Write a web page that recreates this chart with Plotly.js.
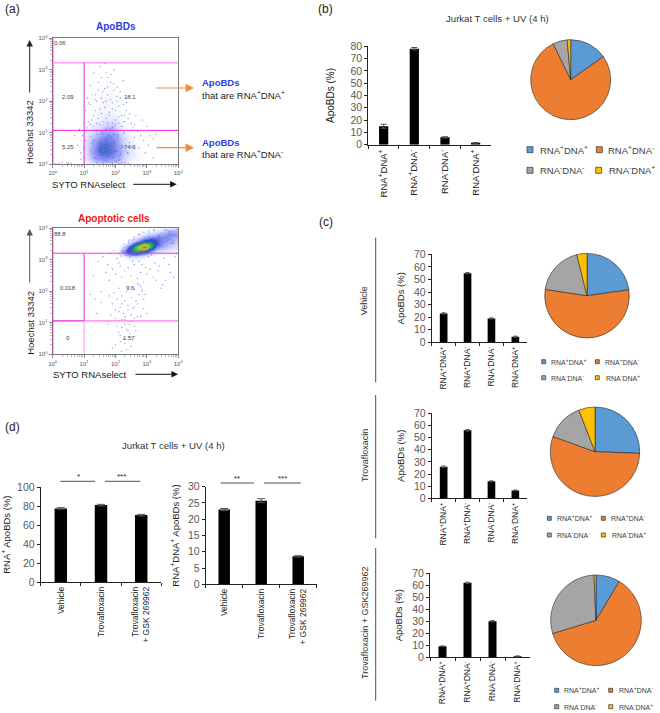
<!DOCTYPE html>
<html>
<head>
<meta charset="utf-8">
<script src="https://cdn.plot.ly/plotly-3.0.1.min.js"></script>
<style>html,body{margin:0;padding:0;background:#fff}#c{width:660px;height:713px}</style>
</head>
<body>
<div id="c"></div>
<script>
// ---------- data ----------
const statusCats = ['RNA<sup>+</sup>DNA<sup>+</sup>','RNA<sup>+</sup>DNA<sup>-</sup>','RNA<sup>-</sup>DNA<sup>-</sup>','RNA<sup>-</sup>DNA<sup>+</sup>'];
const pieColors = ['#5b9bd5','#ed7d31','#a5a5a5','#ffc000'];

const barsB = [15, 78, 6, 1.5];
const errB = [1.6, 1, 0.5, 0.3];
const pieB = [15.2, 77.6, 5.8, 1.4];

const barsVehicle = [23, 55, 19, 4.5];
const errVehicle = [0.5, 0.5, 0.4, 0.4];
const pieVehicle = [22.8, 54.6, 18.7, 3.9];

const barsTrova = [26, 56, 14, 6.5];
const errTrova = [0.6, 0.6, 0.4, 0.3];
const pieTrova = [25.6, 54.9, 13.6, 5.9];

const barsGsk = [9, 62, 30, 0.7];
const errGsk = [0.3, 0.6, 0.5, 0.2];
const pieGsk = [8.6, 61.7, 29, 0.7];

const treatCats = ['Vehicle','Trovafloxacin','Trovafloxacin<br>+ GSK 269962'];
const barsRnaPos = [77.5, 81, 70.5];
const errRnaPos = [0.8, 0.8, 0.8];
const barsDblPos = [23, 25.7, 8.6];
const errDblPos = [0.3, 0.6, 0.2];

const flowTickVals = [1, 10, 100, 1000, 10000];
const flowTickText = ['10<sup>0</sup>','10<sup>1</sup>','10<sup>2</sup>','10<sup>3</sup>','10<sup>4</sup>'];

// flow cytometry sparse events, log10 values
const apoX = [1.1,1.05,1.2,1.3,1.35,1.45,1.5,1.55,1.6,1.65,1.7,1.75,1.6,1.5,1.4,1.3,1.2,1.15,1.25,1.35,1.45,1.55,1.65,1.75,1.85,1.95,2.05,2.15,2.25,2.35,1.9,2.0,2.1,2.2,1.8,1.7,1.6,1.5,1.4,1.3,1.2,1.1,1.9,2.0,2.1,2.3,2.4,2.5,2.6,2.2,1.75,1.85,1.95,2.05,1.65,1.55,1.45,1.35,1.25,1.15,1.7,1.8,1.9,2.0,2.1,2.2,2.3,2.15,2.05,1.95,1.85,1.75,2.25,2.35,2.45,2.55,2.7,2.8,3.0,3.1,2.9,2.6,2.5,2.4,2.75,2.95,3.05,3.2,3.3,1.0,0.95,1.0,0.9,1.05,0.85,0.3,0.5,0.7,0.6,0.45,0.2,0.1,0.8,0.9,1.9,2.1,2.2,1.6,1.4,2.25,2.65,2.85,3.2,2.4,2.3,2.2,
 1.2,1.28,1.33,1.41,1.47,1.52,1.58,1.63,1.69,1.74,1.79,1.83,1.88,1.93,1.98,2.03,2.08,2.14,2.19,1.22,1.31,1.39,1.44,1.51,1.57,1.62,1.68,1.73,1.78,1.84,1.89,1.94,1.99,2.04,2.09,2.16,2.22,2.28,1.26,1.36,1.43,1.49,1.56,1.61,1.67,1.72,1.77,1.82,1.87,1.92,1.97,2.02,2.07,2.12,2.18,2.27,2.33,1.34,1.42,1.53,1.59,1.66,1.71,1.81,1.86,1.91,1.96,2.01,2.06,2.11,2.24,2.31,2.38,2.44,1.64,1.76,1.54,1.46];
const apoY = [2.1,1.7,2.5,2.9,2.2,2.6,3.1,2.75,2.3,3.2,2.9,2.45,1.95,1.75,2.0,1.55,1.9,1.35,1.4,1.7,1.45,1.6,1.8,2.2,2.6,2.35,2.15,2.3,1.9,1.7,1.95,1.7,1.85,1.55,1.65,1.45,1.35,1.25,1.3,1.2,1.25,1.15,1.3,1.4,1.5,1.35,1.45,1.3,1.25,1.2,2.75,2.05,2.55,2.0,2.4,2.1,2.35,2.05,2.2,1.95,2.0,1.55,1.75,1.25,1.3,1.2,1.55,2.1,2.45,3.0,2.85,1.3,1.35,1.95,1.6,1.15,1.05,0.9,1.2,0.9,0.75,0.85,0.55,0.35,0.5,0.35,0.6,0.8,0.95,0.5,0.9,0.2,0.35,0.75,1.1,0.05,0.02,0.9,0.03,0.04,0.02,0.03,0.6,0.15,0.02,0.03,0.05,0.02,0.03,2.65,1.55,1.4,0.2,0.02,0.04,0.03,
 0.42,0.75,0.18,0.95,0.3,0.62,1.02,0.12,0.5,0.85,0.27,1.12,0.66,0.22,0.93,0.4,0.78,0.14,0.58,0.88,0.34,1.05,0.48,0.7,0.16,0.97,0.38,0.82,0.24,0.6,1.15,0.44,0.72,0.1,0.9,0.32,0.54,0.99,0.66,0.2,1.08,0.46,0.8,0.28,0.74,0.13,0.56,0.92,0.36,1.18,0.64,0.08,0.84,0.26,0.5,1.0,0.42,0.76,0.17,0.96,0.3,0.6,1.1,0.52,0.86,0.22,0.7,0.4,0.94,0.12,0.56,0.8,0.35,0.68,0.25,0.9,1.04,0.46,0.15,0.62];

const apoHotX = [1.62,1.7,1.78,1.84,1.9,1.74,1.66,1.82,1.95,1.58,1.72,1.88,1.79,1.68];
const apoHotY = [0.42,0.55,0.38,0.66,0.46,0.72,0.28,0.52,0.6,0.5,0.34,0.82,0.62,0.44];

const cellX = [1.3,1.45,1.6,1.75,1.85,1.95,2.05,2.15,2.25,2.35,2.45,2.55,2.65,2.75,2.85,2.95,3.05,3.15,3.25,3.4,3.55,3.7,3.9,1.2,1.35,1.55,1.7,1.8,1.9,2.0,2.1,2.2,2.3,2.4,2.5,2.6,2.7,2.8,2.9,3.0,3.1,3.2,3.3,3.5,3.85,1.8,1.9,1.95,2.0,2.05,2.1,2.15,2.2,2.25,2.3,2.35,2.4,2.45,2.5,2.55,2.6,2.65,2.7,2.75,2.8,2.85,2.9,2.0,2.1,2.2,2.3,2.4,2.5,2.6,2.7,2.8,2.9,3.0,2.2,2.3,2.4,2.5,2.6,2.7,2.15,2.25,2.35,2.45,2.55,2.05,2.0,1.9,1.75,2.1,2.2,2.3,2.4,2.5,2.35,2.2,2.15,2.05,2.6,2.65,2.45,2.3,1.85,2.55,2.75,3.35,3.45,3.6,3.75,3.95,1.55,1.4,2.85,2.95,
 2.2,2.28,2.36,2.44,2.52,2.6,2.68,2.76,2.84,2.92,3.0,3.08,3.16,3.24,3.32,3.4,3.48,3.56,3.64,3.72,3.8,3.88,3.96,2.26,2.34,2.42,2.5,2.58,2.66,2.74,2.82,2.9,2.98,3.06,3.14,3.22,3.3,3.38,3.46,3.54,3.62,3.7,3.78,3.86,3.94,2.1,2.16,2.4,2.56,2.72,2.88,3.04,3.2,3.36,3.52,3.68,3.84,3.98];
const cellY = [2.5,2.95,3.1,2.85,3.2,3.3,3.05,2.8,3.25,3.45,3.1,3.6,3.15,2.95,2.85,2.75,3.1,3.15,2.9,2.8,3.05,2.85,3.1,1.9,1.75,2.0,2.6,2.35,2.7,2.55,2.9,2.45,2.65,2.75,2.5,2.85,2.4,2.6,2.3,2.55,2.7,2.45,2.35,2.2,2.45,1.85,1.6,1.95,1.4,1.75,2.1,1.5,1.85,1.3,1.7,2.0,1.55,2.15,1.8,1.45,2.05,1.7,2.25,1.9,2.15,2.0,1.75,1.15,1.35,1.6,1.1,1.4,1.25,1.5,1.6,1.2,1.45,1.3,0.85,0.95,0.75,1.05,0.9,1.2,0.6,0.5,0.8,0.65,0.45,0.9,0.3,0.2,0.95,0.7,1.1,0.35,0.55,0.25,0.15,0.1,0.4,1.05,1.15,0.75,0.95,1.2,1.25,2.95,2.2,2.65,2.1,2.35,2.6,3.2,1.65,1.3,2.05,1.9,
 3.28,3.4,3.22,3.62,3.3,3.72,3.35,3.8,3.28,3.7,3.42,3.85,3.5,3.92,3.55,3.75,3.45,3.95,3.6,3.88,3.52,3.8,3.98,3.5,3.15,3.55,3.18,3.65,3.24,3.82,3.3,3.88,3.4,3.92,3.36,3.96,3.45,3.7,3.85,3.55,3.95,3.65,3.9,3.6,3.78,3.2,3.12,3.3,3.42,3.55,3.6,3.75,3.3,3.78,3.42,3.92,3.52,3.7];

// density grids, log10 cell centres
const apoGridX = [0.9,1.1,1.3,1.5,1.7,1.9,2.1,2.3,2.5,2.7,2.9,3.1];
const apoGridY = [0.0,0.2,0.4,0.6,0.8,1.0,1.2,1.4,1.6,1.8,2.0,2.2,2.4,2.6,2.8,3.0];
const apoGridZ = [
 [0,.03,.08,.09,.1,.09,.07,.04,.02,.01,0,0],
 [.01,.06,.14,.19,.2,.18,.13,.08,.04,.02,.01,0],
 [.01,.07,.17,.26,.27,.23,.16,.09,.05,.02,.01,0],
 [.01,.07,.16,.25,.26,.22,.15,.07,.04,.02,.01,0],
 [0,.06,.12,.18,.22,.19,.12,.06,.03,.01,0,0],
 [0,.04,.08,.11,.15,.15,.09,.04,.02,.01,0,0],
 [0,.02,.04,.06,.1,.1,.05,.02,.01,0,0,0],
 [0,.01,.02,.03,.05,.05,.03,.01,0,0,0,0],
 [0,0,.02,.03,.03,.03,.02,.01,0,0,0,0],
 [0,0,.01,.02,.03,.02,.02,0,0,0,0,0],
 [0,0,.01,.02,.03,.02,.01,0,0,0,0,0],
 [0,0,.01,.02,.02,.02,.01,0,0,0,0,0],
 [0,0,.01,.01,.02,.01,0,0,0,0,0,0],
 [0,0,0,.01,.01,.01,0,0,0,0,0,0],
 [0,0,0,0,.01,0,0,0,0,0,0,0],
 [0,0,0,0,0,0,0,0,0,0,0,0]
];

const cellGridX = [1.9,2.1,2.3,2.5,2.7,2.9,3.1,3.3,3.5,3.7,3.9,4.1];
const cellGridY = [2.9,3.0,3.1,3.2,3.3,3.4,3.5,3.6,3.7,3.8,3.9,4.0];
const cellGridZ = [
 [0,0,0,0,0,0,0,0,0,0,0,0],
 [0,0,0,.02,.02,0,0,0,0,0,0,0],
 [0,0,.05,.08,.07,.04,.02,.01,0,0,0,0],
 [0,.01,.18,.32,.32,.2,.09,.04,.03,.02,.01,0],
 [0,.01,.22,.46,.6,.54,.24,.1,.07,.05,.04,.03],
 [0,0,.1,.38,.72,.98,.54,.2,.12,.09,.07,.05],
 [0,0,.03,.18,.46,.76,.6,.3,.16,.11,.08,.07],
 [0,0,0,.05,.16,.34,.4,.28,.2,.15,.11,.08],
 [0,0,0,.01,.05,.12,.2,.22,.2,.18,.13,.09],
 [0,0,0,0,.02,.05,.08,.11,.14,.2,.17,.1],
 [0,0,0,0,0,.02,.03,.05,.08,.12,.14,.1],
 [0,0,0,0,0,0,.01,.02,.03,.06,.08,.08]
];

// ---------- page geometry ----------
const W = 660, H = 713;
const fx = p => p / W;
const fy = p => 1 - p / H;
const dark = '#222222', tickGrey = '#595959';
const sans = 'Liberation Sans, Arial, sans-serif';
const pow10 = a => a.map(v => Math.pow(10, v));

const layout = {
  width: W, height: H, margin: {l:0, r:0, t:0, b:0}, autosize: false,
  paper_bgcolor: '#fff', plot_bgcolor: 'rgba(0,0,0,0)', showlegend: false, hovermode: false,
  font: {family: sans, color: dark},
  shapes: [], annotations: []
};
const traces = [];

function note(x, y, text, o) {
  layout.annotations.push(Object.assign({xref:'paper', yref:'paper', x:fx(x), y:fy(y), text, showarrow:false,
    xanchor:'center', yanchor:'middle', borderpad:0, font:{size:9.5, color:dark, family:sans}}, o||{}));
}
function arrow(x0, y0, x1, y1, color, w, size) {
  layout.annotations.push({xref:'paper', yref:'paper', axref:'paper', ayref:'paper', x:fx(x1), y:fy(y1), ax:fx(x0), ay:fy(y0),
    text:'', showarrow:true, arrowhead:2, arrowsize:size||1, arrowwidth:w||1.2, arrowcolor:color});
}
function seg(x0, y0, x1, y1, color, w) {
  layout.shapes.push({type:'line', xref:'paper', yref:'paper', x0:fx(x0), y0:fy(y0), x1:fx(x1), y1:fy(y1), line:{color:color||dark, width:w||1}});
}

function flowPanel(n, box, pts, grid, gates) {
  const xn = 'x'+n, yn = 'y'+n;
  const base = {type:'log', range:[0,4], tickmode:'array', tickvals:flowTickVals, ticktext:flowTickText,
    ticks:'outside', ticklen:3, tickcolor:'#555', tickwidth:.7, linecolor:'#777', linewidth:1, mirror:true, showgrid:false, zeroline:false,
    tickfont:{size:6, color:'#555', family:sans}, minor:{tickmode:'array', ticks:'outside', ticklen:1.5, tickcolor:'#777', tickwidth:.5,
      tickvals:[2,3,4,5,6,7,8,9,20,30,40,50,60,70,80,90,200,300,400,500,600,700,800,900,2000,3000,4000,5000,6000,7000,8000,9000]}};
  layout['xaxis'+n] = Object.assign({}, base, {domain:[fx(box[0]),fx(box[1])], anchor:yn});
  layout['yaxis'+n] = Object.assign({}, base, {domain:[fy(box[3]),fy(box[2])], anchor:xn});
  traces.push({type:'heatmap', xaxis:xn, yaxis:yn, x:pow10(grid.x), y:pow10(grid.y), z:grid.z, zsmooth:'best', zmin:0, zmax:1, showscale:false, hoverinfo:'skip',
    colorscale:[[0,'rgba(255,255,255,0)'],[.03,'rgba(200,205,255,.3)'],[.12,'rgba(140,150,250,.7)'],[.3,'#3040d8'],[.5,'#14a070'],[.72,'#a8d820'],[.86,'#f0a020'],[1,'#e02818']]});
  traces.push({type:'scatter', mode:'markers', xaxis:xn, yaxis:yn, x:pow10(pts.x), y:pow10(pts.y), hoverinfo:'skip',
    marker:{size:1.3, color:'#5a66e8', opacity:.75, line:{width:0}}});
  if (pts.hotX) traces.push({type:'scatter', mode:'markers', xaxis:xn, yaxis:yn, x:pow10(pts.hotX), y:pow10(pts.hotY), hoverinfo:'skip',
    marker:{size:1.5, color:'#30b880', line:{width:0}}});
  gates.forEach(g => layout.shapes.push({type:'line', xref:xn, yref:yn, x0:Math.pow(10,g[0]), y0:Math.pow(10,g[1]), x1:Math.pow(10,g[2]), y1:Math.pow(10,g[3]), line:{color:g[4], width:g[5]}}));
}

function barPanel(n, box, cats, vals, errs, o) {
  const xn = 'x'+n, yn = 'y'+n;
  layout['xaxis'+n] = {domain:[fx(box[0]),fx(box[1])], anchor:yn, type:'category', categoryorder:'array', categoryarray:cats, range:[-.5,cats.length-.5],
    tickson:'boundaries', ticks:'outside', ticklen:3, tickcolor:dark, linecolor:dark, linewidth:1, showgrid:false, zeroline:false,
    tickangle:-90, ticklabelstandoff:o.catOff||0, tickfont:{size:o.catSize, color:dark, family:sans}};
  layout['yaxis'+n] = {domain:[fy(box[3]),fy(box[2])], anchor:xn, range:[0,o.ymax], dtick:o.dtick, ticks:'outside', ticklen:3, tickcolor:dark,
    linecolor:dark, linewidth:1, showgrid:false, zeroline:false, tickfont:{size:o.tickSize, color:tickGrey, family:sans},
    title:{text:o.title, standoff:o.standoff, font:{size:o.titleSize, color:dark, family:sans}}};
  traces.push({type:'bar', xaxis:xn, yaxis:yn, x:cats, y:vals, width:o.bw, marker:{color:'#000'}, hoverinfo:'skip',
    error_y:{type:'data', array:errs, visible:true, color:'#555', thickness:1, width:o.capw||3}});
}

function piePanel(cx, cy, r, vals) {
  traces.push({type:'pie', values:vals, labels:statusCats, sort:false, direction:'clockwise', rotation:0, textinfo:'none', hoverinfo:'skip',
    marker:{colors:pieColors, line:{color:'#2a2a2a', width:.6}},
    domain:{x:[fx(cx-r),fx(cx+r)], y:[fy(cy+r),fy(cy-r)]}});
}

function keyRow(sqX, textX, y, label, size, sq) {
  layout.shapes.push({type:'rect', xref:'paper', yref:'paper', x0:fx(sqX-sq), x1:fx(sqX+sq), y0:fy(y+sq), y1:fy(y-sq), fillcolor:pieColors[label], line:{color:'#333', width:.7}});
  note(textX, y, statusCats[label], {xanchor:'left', font:{size, color:'#404040', family:sans}});
}

// ---------- panel (a) ----------
const pink = '#ff9cf0', mag = '#f020e0';
flowPanel(1, [52.7,178.3,38.3,164], {x:apoX, y:apoY, hotX:apoHotX, hotY:apoHotY}, {x:apoGridX, y:apoGridY, z:apoGridZ},
  [[0,0,0,4,mag,1.4],[0,3.22,4,3.22,pink,1.6],[0,1.07,4,1.07,mag,1],[1,0,1,3.22,mag,1]]);
flowPanel(2, [52.7,178.3,228.3,354.3], {x:cellX, y:cellY}, {x:cellGridX, y:cellGridY, z:cellGridZ},
  [[0,0,0,4,mag,1.2],[0,3.21,4,3.21,mag,.9],[0,1.06,1,1.06,mag,1.2],[1,1.06,4,1.06,pink,1.6],[1,1.06,1,3.21,mag,1],[1,0,1,1.06,pink,1]]);

note(116,27,'<b>ApoBDs</b>',{font:{size:10,color:'#2b3ee6',family:sans}});
note(114,218,'<b>Apoptotic cells</b>',{font:{size:10,color:'#f01818',family:sans}});
note(12,9,'(a)',{font:{size:12,color:dark,family:sans}});
[[60,42.7,'0.06'],[67.7,97.3,'2.09'],[130,97.3,'18.1'],[67.7,147.3,'5.25'],[130,147.3,'74.6'],
 [60,233.7,'88.8'],[67.7,287.7,'0.018'],[130,287.7,'9.6'],[67.7,338,'0'],[129,338,'1.57']].forEach(t =>
  note(t[0],t[1],t[2],{font:{size:6,color:'#444',family:sans}}));

note(30.3,131.8,'Hoechst 33342',{textangle:-90,font:{size:9.5,color:dark,family:sans}});
note(30.3,322.5,'Hoechst 33342',{textangle:-90,font:{size:9.5,color:dark,family:sans}});
note(89.3,184.3,'SYTO RNAselect',{font:{size:9.5,color:dark,family:sans}});
note(90,374.7,'SYTO RNAselect',{font:{size:9.5,color:dark,family:sans}});
arrow(29.7,94,29.7,40,'#222',1,1.3);
arrow(29.7,284,29.7,229,'#555',1,1.3);
arrow(131.7,184.3,176.7,184.3,'#111',1,1.3);
arrow(134,374.3,178,374.3,'#111',1,1.3);
arrow(155,88,194,88,'#ed8b3f',1.2,1.4);
arrow(155,147.7,194,147.7,'#ed8b3f',1.2,1.4);
note(201,82.7,'<b>ApoBDs</b>',{xanchor:'left',font:{size:9.5,color:'#2b3ee6',family:sans}});
note(201,94.7,'that are RNA<sup>+</sup>DNA<sup>+</sup>',{xanchor:'left',font:{size:9.5,color:dark,family:sans}});
note(201,142.3,'<b>ApoBDs</b>',{xanchor:'left',font:{size:9.5,color:'#2b3ee6',family:sans}});
note(201,154.3,'that are RNA<sup>+</sup>DNA<sup>-</sup>',{xanchor:'left',font:{size:9.5,color:dark,family:sans}});

// ---------- panel (b) ----------
note(325.7,9,'(b)',{font:{size:12,color:dark,family:sans}});
note(497.7,18.3,'Jurkat T cells + UV (4 h)',{font:{size:9.6,color:'#333',family:sans}});
barPanel(3,[368.3,491,46.3,144.7],statusCats,barsB,errB,{ymax:80,dtick:10,bw:.3,catSize:9.5,tickSize:10.5,title:'ApoBDs (%)',standoff:14,titleSize:10});
piePanel(570.7,79.7,40,pieB);
keyRow(530,538.7,149.7,0,9.5,3); keyRow(599.3,606.7,149.7,1,9.5,3);
keyRow(530,538.7,170.3,2,9.5,3); keyRow(598.7,607.7,170.3,3,9.5,3);

// ---------- panel (c) ----------
note(325.7,222,'(c)',{font:{size:12,color:dark,family:sans}});
seg(375.7,237.7,375.7,382.3,dark,.8);
seg(375.7,395,375.7,538.3,dark,.8);
seg(375.7,548,375.7,700.7,dark,.8);
note(364.3,301,'Vehicle',{textangle:-90,font:{size:9,color:'#333',family:sans}});
note(364.3,455.7,'Trovafloxacin',{textangle:-90,font:{size:9,color:'#333',family:sans}});
note(364.3,622.7,'Trovafloxacin + GSK269962',{textangle:-90,font:{size:9,color:'#333',family:sans}});

const cOpts = {ymax:70,dtick:10,bw:.32,catSize:8.5,tickSize:10.5,title:'ApoBDs (%)',standoff:7,titleSize:9.5,capw:2};
barPanel(4,[431.7,527.3,254.3,342.3],statusCats,barsVehicle,errVehicle,cOpts);
barPanel(5,[431.7,527.3,413.3,498.3],statusCats,barsTrova,errTrova,cOpts);
barPanel(6,[430,530,573.3,657],statusCats,barsGsk,errGsk,cOpts);
piePanel(587,295.7,42.3,pieVehicle);
piePanel(595,451.7,44.7,pieTrova);
piePanel(596,620.3,45.3,pieGsk);
keyRow(543.7,550.3,361.7,0,7,2); keyRow(597.3,604.3,361.7,1,7,2);
keyRow(543.7,550.3,377.7,2,7,2); keyRow(597.3,605,377.7,3,7,2);
keyRow(549.3,556,518.3,0,7,2); keyRow(603.3,610,518.3,1,7,2);
keyRow(549.3,556,535,2,7,2); keyRow(603.3,610.5,535,3,7,2);
keyRow(556.7,563.3,690.3,0,7,2); keyRow(610.7,617.5,690.3,1,7,2);
keyRow(556.7,563.3,706.7,2,7,2); keyRow(610.7,618.3,706.7,3,7,2);

// ---------- panel (d) ----------
note(12,427,'(d)',{font:{size:12,color:dark,family:sans}});
note(173.3,445.7,'Jurkat T cells + UV (4 h)',{font:{size:9.6,color:'#333',family:sans}});
barPanel(7,[40.7,161.3,487,582.3],treatCats,barsRnaPos,errRnaPos,{ymax:100,dtick:20,bw:.31,catSize:8.5,tickSize:10.5,title:'RNA<sup>+</sup> ApoBDs (%)',standoff:4,titleSize:9.5,capw:4});
barPanel(8,[205.7,316.7,486.7,584.3],treatCats,barsDblPos,errDblPos,{ymax:30,dtick:5,bw:.31,catSize:8.5,tickSize:10.5,title:'RNA<sup>+</sup>DNA<sup>+</sup> ApoBDs (%)',standoff:6,titleSize:9.5,capw:4});
seg(60.3,481.3,95,481.3,dark,.8); seg(105,481.3,140.3,481.3,dark,.8);
seg(220.7,483,254,483,dark,.8); seg(264,483,300.7,483,dark,.8);
const starFont = {size:8,color:dark,family:sans};
note(78.7,476.5,'*',{font:starFont}); note(121.7,476.5,'***',{font:starFont});
note(236.7,479,'**',{font:starFont}); note(282,479,'***',{font:starFont});

Plotly.newPlot('c', traces, layout, {staticPlot:true, displayModeBar:false});
</script>
</body>
</html>
